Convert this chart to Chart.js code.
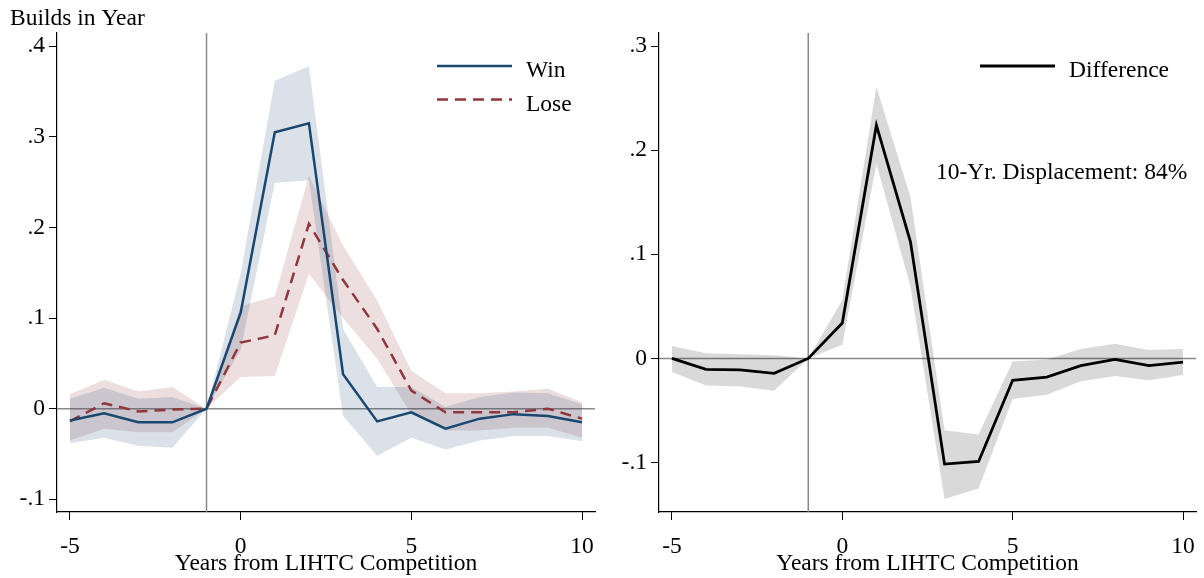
<!DOCTYPE html>
<html>
<head>
<meta charset="utf-8">
<script src="https://cdn.jsdelivr.net/npm/chart.js@4"></script>
<style>
  body { margin: 0; background: #fff; }
  #wrap { position: relative; width: 1204px; height: 578px; }
  canvas { position: absolute; top: 0; }
</style>
</head>
<body>
<div id="wrap">
  <canvas id="winLoseChart" width="602" height="578" style="left:0"></canvas>
  <canvas id="diffChart" width="602" height="578" style="left:602px"></canvas>
</div>
<script>
// years relative to the competition
const years = [-5, -4, -3, -2, -1, 0, 1, 2, 3, 4, 5, 6, 7, 8, 9, 10];

// left panel: builds in year
const win = [-0.013, -0.005, -0.015, -0.015, 0, 0.106, 0.305, 0.315, 0.038, -0.014, -0.004, -0.022, -0.011, -0.006, -0.008, -0.015];
const winHi = [0.011, 0.023, 0.011, 0.013, 0, 0.149, 0.362, 0.378, 0.088, 0.024, 0.024, 0.002, 0.013, 0.018, 0.017, 0.005];
const winLo = [-0.038, -0.032, -0.041, -0.043, 0, 0.065, 0.249, 0.252, -0.008, -0.052, -0.032, -0.045, -0.035, -0.030, -0.030, -0.036];
const lose = [-0.014, 0.006, -0.003, -0.001, 0, 0.073, 0.081, 0.204, 0.142, 0.088, 0.020, -0.004, -0.004, -0.004, 0, -0.011];
const loseHi = [0.016, 0.032, 0.019, 0.024, 0, 0.113, 0.124, 0.257, 0.180, 0.119, 0.042, 0.017, 0.017, 0.019, 0.022, 0.007];
const loseLo = [-0.035, -0.022, -0.026, -0.026, 0, 0.035, 0.036, 0.149, 0.100, 0.055, -0.006, -0.024, -0.024, -0.021, -0.021, -0.032];

// right panel: win minus lose
const diff = [0, -0.0106, -0.011, -0.0144, 0, 0.034, 0.224, 0.112, -0.1015, -0.099, -0.021, -0.018, -0.007, -0.001, -0.007, -0.0035];
const diffHi = [0.012, 0.005, 0.004, 0.003, 0, 0.056, 0.261, 0.155, -0.069, -0.073, -0.003, -0.001, 0.009, 0.014, 0.008, 0.009];
const diffLo = [-0.013, -0.026, -0.027, -0.031, 0, 0.013, 0.187, 0.069, -0.135, -0.125, -0.039, -0.035, -0.022, -0.017, -0.021, -0.016];

// tick labels
const xTicks = [-5, 0, 5, 10];
const leftYTicks = [-0.1, 0, 0.1, 0.2, 0.3, 0.4];
const rightYTicks = [-0.1, 0, 0.1, 0.2, 0.3];

const xTitle = "Years from LIHTC Competition";
const leftTitle = "Builds in Year";
const note = "10-Yr. Displacement: 84%";

Chart.defaults.font.family = "'Liberation Serif', 'Times New Roman', serif";
Chart.defaults.font.size = 23.5;
Chart.defaults.color = "#000";

const pts = (ys) => years.map((x, i) => ({ x: x, y: ys[i] }));
const fmtY = (v) => v === 0 ? "0" : (v < 0 ? "-" : "") + Math.abs(v).toFixed(1).slice(1);

// reference lines, legend and free text
const extras = {
    id: "extras",
    beforeDatasetsDraw(chart, args, opts) {
        const { ctx, chartArea, scales } = chart;
        const x = scales.x.getPixelForValue(-1);
        const y = scales.y.getPixelForValue(0);
        ctx.save();
        ctx.strokeStyle = "#8a8a8a";
        ctx.lineWidth = 1.5;
        ctx.beginPath();
        ctx.moveTo(x, chartArea.top);
        ctx.lineTo(x, chartArea.bottom);
        ctx.moveTo(chartArea.left, y);
        ctx.lineTo(chartArea.right, y);
        ctx.stroke();
        ctx.restore();
    },
    afterDraw(chart, args, opts) {
        const ctx = chart.ctx;
        ctx.save();
        ctx.font = "23.5px 'Liberation Serif', 'Times New Roman', serif";
        ctx.fillStyle = "#000";
        ctx.textBaseline = "alphabetic";
        let row = 0;
        chart.data.datasets.forEach((ds) => {
            if (!ds.label) return;
            const ly = opts.legendY + row * 33.5;
            ctx.strokeStyle = ds.borderColor;
            ctx.lineWidth = ds.borderWidth;
            ctx.setLineDash(ds.borderDash || []);
            ctx.beginPath();
            ctx.moveTo(opts.legendX, ly);
            ctx.lineTo(opts.legendX + 75, ly);
            ctx.stroke();
            ctx.fillText(ds.label, opts.legendX + 89, ly + 11);
            row++;
        });
        ctx.setLineDash([]);
        (opts.texts || []).forEach((t) => ctx.fillText(t.text, t.x, t.y));
        ctx.restore();
    }
};

function axes(yMin, yMax, yTicks) {
    return {
        x: {
            type: "linear",
            min: -5.38,
            max: 10.38,
            afterBuildTicks: (s) => { s.ticks = xTicks.map((v) => ({ value: v })); },
            afterFit: (s) => { s.height = 66; s.paddingLeft = 0; s.paddingRight = 0; },
            grid: { drawOnChartArea: false, drawTicks: true, tickLength: 8, color: "#000" },
            border: { display: true, color: "#000", width: 1.2 },
            ticks: { padding: 13, maxRotation: 0, callback: (v) => String(v) },
            title: { display: true, text: xTitle, padding: { top: 0, bottom: 0 } }
        },
        y: {
            type: "linear",
            min: yMin,
            max: yMax,
            afterBuildTicks: (s) => { s.ticks = yTicks.map((v) => ({ value: v })); },
            afterFit: (s) => { s.width = 57; s.paddingTop = 0; s.paddingBottom = 0; },
            grid: { drawOnChartArea: false, drawTicks: true, tickLength: 8, color: "#000" },
            border: { display: true, color: "#000", width: 1.2 },
            ticks: { padding: 4, callback: (v) => fmtY(v) }
        }
    };
}

const band = (hi, lo, color) => [
    { data: pts(hi), fill: "+1", backgroundColor: color, borderWidth: 0, pointRadius: 0, order: 5 },
    { data: pts(lo), fill: false, borderWidth: 0, pointRadius: 0, order: 5 }
];

// Left: win vs lose
new Chart(document.getElementById("winLoseChart"), {
    type: "line",
    data: {
        datasets: [
            { label: "Win", data: pts(win), borderColor: "#1a476f", borderWidth: 2.5, pointRadius: 0, fill: false, order: 1 },
            { label: "Lose", data: pts(lose), borderColor: "#90353b", borderWidth: 2.5, borderDash: [11, 7], pointRadius: 0, fill: false, order: 2 },
            ...band(winHi, winLo, "rgba(26, 71, 111, 0.16)"),
            ...band(loseHi, loseLo, "rgba(144, 53, 59, 0.16)")
        ]
    },
    options: {
        responsive: false,
        animation: false,
        devicePixelRatio: 1,
        layout: { padding: { top: 33, right: 7, left: 0, bottom: 0 } },
        scales: axes(-0.114, 0.4146, leftYTicks),
        plugins: {
            legend: { display: false },
            tooltip: { enabled: false },
            extras: { legendX: 437, legendY: 66, texts: [{ text: leftTitle, x: 10, y: 25 }] }
        }
    },
    plugins: [extras]
});

// Right: difference
new Chart(document.getElementById("diffChart"), {
    type: "line",
    data: {
        datasets: [
            { label: "Difference", data: pts(diff), borderColor: "#000", borderWidth: 2.8, pointRadius: 0, fill: false, order: 1 },
            ...band(diffHi, diffLo, "rgba(0, 0, 0, 0.15)")
        ]
    },
    options: {
        responsive: false,
        animation: false,
        devicePixelRatio: 1,
        layout: { padding: { top: 33, right: 8, left: 0, bottom: 0 } },
        scales: axes(-0.1475, 0.3125, rightYTicks),
        plugins: {
            legend: { display: false },
            tooltip: { enabled: false },
            extras: { legendX: 378, legendY: 66, texts: [{ text: note, x: 334, y: 179 }] }
        }
    },
    plugins: [extras]
});
</script>
</body>
</html>
